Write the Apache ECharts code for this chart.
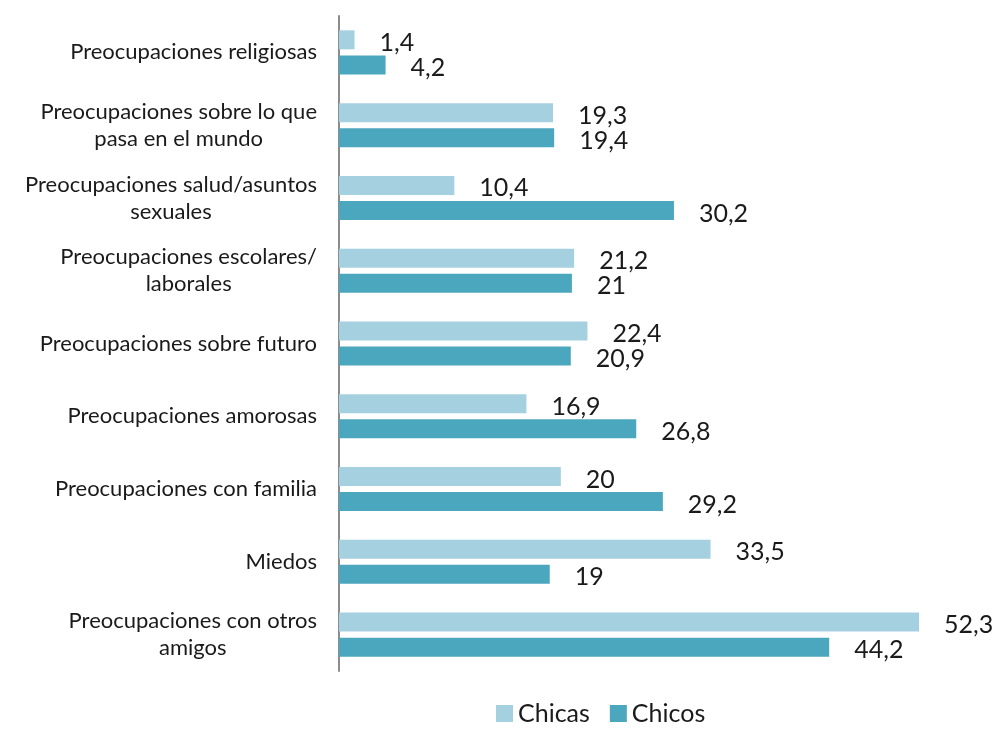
<!DOCTYPE html>
<html>
<head>
<meta charset="utf-8">
<script src="https://cdn.jsdelivr.net/npm/echarts@6/dist/echarts.min.js"></script>
<style>
  html, body { margin: 0; padding: 0; background: #fff; }
  #chart { width: 997px; height: 731px; }
</style>
</head>
<body>
<div id="chart"></div>
<script>
// categories top to bottom (y axis is inverted)
const categories = [
  'Preocupaciones religiosas',
  'Preocupaciones sobre lo que\npasa en el mundo',
  'Preocupaciones salud/asuntos\nsexuales',
  'Preocupaciones escolares/\nlaborales',
  'Preocupaciones sobre futuro',
  'Preocupaciones amorosas',
  'Preocupaciones con familia',
  'Miedos',
  'Preocupaciones con otros\namigos'
]
const chicas = [1.4, 19.3, 10.4, 21.2, 22.4, 16.9, 20, 33.5, 52.3]
const chicos = [4.2, 19.4, 30.2, 21, 20.9, 26.8, 29.2, 19, 44.2]

const chicasColor = '#a5d0df'
const chicosColor = '#4aa7bd'
const font = 'Lato, "Open Sans", sans-serif'

const fmtNum = v => String(v.value).replace('.', ',')

const chart = echarts.init(document.getElementById('chart'))

const valueLabel = {
  show: true,
  position: 'right',
  distance: 25,
  offset: [0, 3],
  fontSize: 25,
  color: '#1a1a1a',
  fontFamily: font,
  formatter: fmtNum
}

const option = {
  animation: false,
  textStyle: { fontFamily: font },
  grid: {
    left: 339,
    right: 48,
    top: 16,
    bottom: 60
  },
  legend: {
    bottom: 0,
    left: 491,
    itemWidth: 17,
    itemHeight: 17,
    itemGap: 20,
    icon: 'rect',
    textStyle: { fontSize: 25, color: '#1a1a1a', fontFamily: font },
    data: ['Chicas', 'Chicos']
  },
  xAxis: {
    type: 'value',
    min: 0,
    max: 55,
    show: false
  },
  yAxis: {
    type: 'category',
    inverse: true,
    data: categories,
    axisLine: { show: true, lineStyle: { color: '#8c8c8c', width: 2 } },
    axisTick: { show: false },
    axisLabel: {
      margin: 22,
      fontSize: 22,
      color: '#1a1a1a',
      lineHeight: 27,
      formatter: v => v.split('\n').map(s => '{c|' + s + '}').join('\n'),
      rich: {
        c: { align: 'center', fontSize: 22, lineHeight: 27, color: '#1a1a1a', fontFamily: font }
      }
    }
  },
  series: [
    {
      name: 'Chicas',
      type: 'bar',
      data: chicas,
      barWidth: 19,
      barGap: '32%',
      itemStyle: { color: chicasColor },
      label: valueLabel
    },
    {
      name: 'Chicos',
      type: 'bar',
      data: chicos,
      barWidth: 19,
      itemStyle: { color: chicosColor },
      label: valueLabel
    }
  ]
}

chart.setOption(option)
</script>
</body>
</html>
